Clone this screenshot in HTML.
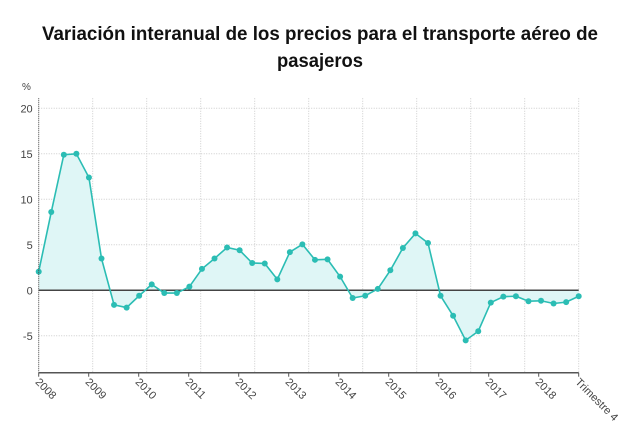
<!DOCTYPE html>
<html><head><meta charset="utf-8"><style>
body{margin:0;background:#fff;}
svg{display:block;font-family:"Liberation Sans",sans-serif;}
</style></head><body>
<svg id="chart" width="640" height="431">
<text x="320" y="40" text-anchor="middle" font-size="19" font-weight="bold" fill="#111" textLength="556" lengthAdjust="spacingAndGlyphs">Variación interanual de los precios para el transporte aéreo de</text>
<text x="320" y="67" text-anchor="middle" font-size="19" font-weight="bold" fill="#111" textLength="86" lengthAdjust="spacingAndGlyphs">pasajeros</text>
<text x="22" y="90" font-size="10" fill="#444">%</text>
<g id="grid"></g><g id="plot"></g><g id="axes"></g>
</svg>
<script>
const years=["2008","2009","2010","2011","2012","2013","2014","2015","2016","2017","2018","Trimestre 4"];
const yTicks=[20,15,10,5,0,-5];
const values=[2.05,8.6,14.9,15.0,12.4,3.5,-1.6,-1.9,-0.6,0.65,-0.3,-0.3,0.4,2.35,3.5,4.7,4.4,3.0,2.95,1.2,4.2,5.05,3.35,3.4,1.5,-0.85,-0.6,0.15,2.2,4.65,6.25,5.2,-0.6,-2.8,-5.5,-4.5,-1.35,-0.7,-0.65,-1.2,-1.15,-1.45,-1.3,-0.65];
const NS="http://www.w3.org/2000/svg";
const x0=38.7,x1=578.7,yTop=108.3,yZero=290.3,yBot=372.7;
const xs=i=>x0+(x1-x0)*i/(values.length-1);
const ys=v=>yZero-(yZero-yTop)*v/20;
function mk(t,a,p){const e=document.createElementNS(NS,t);for(const k in a)e.setAttribute(k,a[k]);p.appendChild(e);return e;}
const grid=document.getElementById('grid'),plot=document.getElementById('plot'),axes=document.getElementById('axes');
for(const t of yTicks){
 const g=mk('line',{x1:x0,x2:x1,y1:ys(t),y2:ys(t),stroke:'#ccc','stroke-dasharray':'1,1.5'},grid);
 
 
 const l=mk('text',{x:x0-6,y:ys(t)+4,'text-anchor':'end','font-size':11,fill:'#444'},axes);
 l.textContent=t;
 
 
}
for(let k=1;k<=10;k++){
 const gx=x0+(x1-x0)*k/10;
 const g=mk('line',{x1:gx,x2:gx,y1:yTop-10,y2:yBot,stroke:'#ccc','stroke-dasharray':'1,1.5'},grid);
 
 
}
// area
let d=`M${xs(0)},${yZero}`;values.forEach((v,i)=>d+=`L${xs(i)},${ys(v)}`);d+=`L${xs(values.length-1)},${yZero}Z`;
const defs=mk('defs',{},plot);
const lg=mk('linearGradient',{id:'gf',x1:0,y1:0,x2:0,y2:1},defs);
mk('stop',{offset:'0','stop-color':'#d8f5f5'},lg);mk('stop',{offset:'1','stop-color':'#e4f8f8'},lg);
const area=mk('path',{d:d,fill:'#dff6f6'},plot);


const zl=mk('line',{x1:x0,x2:x1,y1:yZero,y2:yZero,stroke:'#444','stroke-width':1.5},plot);


const line=mk('polyline',{points:values.map((v,i)=>xs(i)+','+ys(v)).join(' '),fill:'none',stroke:'#2bbdb4','stroke-width':1.6},plot);


values.forEach((v,i)=>{
 const c=mk('circle',{cx:xs(i),cy:ys(v),r:3,fill:'#2bbdb4'},plot);
 
 
});
const ya=mk('line',{x1:x0,x2:x0,y1:yTop-10,y2:yBot,stroke:'#444','stroke-width':1,'stroke-dasharray':'1,1'},axes);


const xa=mk('line',{x1:x0,x2:x1,y1:yBot,y2:yBot,stroke:'#555','stroke-width':1.5},axes);


years.forEach((y,k)=>{
 const tx=k<years.length-1?x0+50*k:x1;
 const tk=mk('line',{x1:tx,x2:tx,y1:yBot,y2:yBot+4,stroke:'#555'},axes);
 
 
 const t=mk('text',{x:tx-4,y:yBot+10,'font-size':11,fill:'#444',transform:`rotate(45 ${tx-4} ${yBot+10})`},axes);
 t.textContent=y;
 
 
});
</script>
</body></html>
